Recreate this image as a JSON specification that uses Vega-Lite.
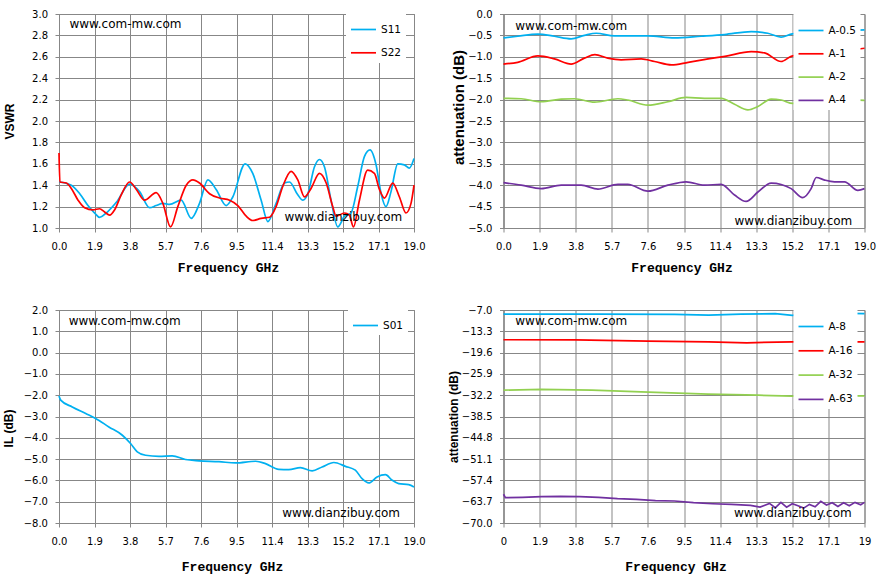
{
  "$schema": "https://vega.github.io/schema/vega-lite/v6.json",
  "background": "white",
  "padding": {"left": 2, "top": 8, "right": 5, "bottom": 5},
  "datasets": {
    "vswr": [
      {"freq": 0, "value": 1.43, "series": "S11"}, {"freq": 0.66, "value": 1.40, "series": "S11"}, {"freq": 1.11, "value": 1.32, "series": "S11"},
      {"freq": 1.55, "value": 1.21, "series": "S11"}, {"freq": 1.91, "value": 1.14, "series": "S11"}, {"freq": 2.17, "value": 1.10, "series": "S11"},
      {"freq": 2.53, "value": 1.14, "series": "S11"}, {"freq": 3.07, "value": 1.24, "series": "S11"}, {"freq": 3.78, "value": 1.41, "series": "S11"},
      {"freq": 4.31, "value": 1.34, "series": "S11"}, {"freq": 4.85, "value": 1.19, "series": "S11"}, {"freq": 5.20, "value": 1.21, "series": "S11"},
      {"freq": 5.56, "value": 1.23, "series": "S11"}, {"freq": 5.92, "value": 1.22, "series": "S11"}, {"freq": 6.54, "value": 1.26, "series": "S11"},
      {"freq": 7.08, "value": 1.09, "series": "S11"}, {"freq": 7.52, "value": 1.23, "series": "S11"}, {"freq": 7.97, "value": 1.45, "series": "S11"},
      {"freq": 8.41, "value": 1.36, "series": "S11"}, {"freq": 8.95, "value": 1.21, "series": "S11"}, {"freq": 9.30, "value": 1.29, "series": "S11"},
      {"freq": 9.96, "value": 1.60, "series": "S11"}, {"freq": 10.37, "value": 1.51, "series": "S11"}, {"freq": 10.82, "value": 1.26, "series": "S11"},
      {"freq": 11.18, "value": 1.06, "series": "S11"}, {"freq": 11.62, "value": 1.23, "series": "S11"}, {"freq": 12.07, "value": 1.42, "series": "S11"},
      {"freq": 12.34, "value": 1.43, "series": "S11"}, {"freq": 12.78, "value": 1.31, "series": "S11"}, {"freq": 13.05, "value": 1.26, "series": "S11"},
      {"freq": 13.32, "value": 1.32, "series": "S11"}, {"freq": 13.67, "value": 1.57, "series": "S11"}, {"freq": 13.94, "value": 1.64, "series": "S11"},
      {"freq": 14.21, "value": 1.57, "series": "S11"}, {"freq": 14.56, "value": 1.26, "series": "S11"}, {"freq": 14.92, "value": 1.01, "series": "S11"},
      {"freq": 15.28, "value": 1.11, "series": "S11"}, {"freq": 15.63, "value": 1.14, "series": "S11"}, {"freq": 15.99, "value": 1.39, "series": "S11"},
      {"freq": 16.35, "value": 1.67, "series": "S11"}, {"freq": 16.65, "value": 1.73, "series": "S11"}, {"freq": 16.97, "value": 1.59, "series": "S11"},
      {"freq": 17.24, "value": 1.32, "series": "S11"}, {"freq": 17.50, "value": 1.20, "series": "S11"}, {"freq": 17.77, "value": 1.34, "series": "S11"},
      {"freq": 18.13, "value": 1.60, "series": "S11"}, {"freq": 18.48, "value": 1.59, "series": "S11"}, {"freq": 18.75, "value": 1.56, "series": "S11"},
      {"freq": 19.0, "value": 1.65, "series": "S11"},
      {"freq": 0, "value": 1.70, "series": "S22"}, {"freq": 0.05, "value": 1.43, "series": "S22"}, {"freq": 0.39, "value": 1.42, "series": "S22"},
      {"freq": 0.66, "value": 1.37, "series": "S22"}, {"freq": 1.02, "value": 1.26, "series": "S22"}, {"freq": 1.37, "value": 1.19, "series": "S22"},
      {"freq": 1.82, "value": 1.17, "series": "S22"}, {"freq": 2.17, "value": 1.18, "series": "S22"}, {"freq": 2.44, "value": 1.15, "series": "S22"},
      {"freq": 2.71, "value": 1.12, "series": "S22"}, {"freq": 2.98, "value": 1.17, "series": "S22"}, {"freq": 3.33, "value": 1.31, "series": "S22"},
      {"freq": 3.78, "value": 1.43, "series": "S22"}, {"freq": 4.14, "value": 1.36, "series": "S22"}, {"freq": 4.58, "value": 1.26, "series": "S22"},
      {"freq": 5.20, "value": 1.33, "series": "S22"}, {"freq": 5.56, "value": 1.23, "series": "S22"}, {"freq": 5.97, "value": 1.01, "series": "S22"},
      {"freq": 6.36, "value": 1.20, "series": "S22"}, {"freq": 6.81, "value": 1.40, "series": "S22"}, {"freq": 7.17, "value": 1.45, "series": "S22"},
      {"freq": 7.52, "value": 1.42, "series": "S22"}, {"freq": 8.06, "value": 1.32, "series": "S22"}, {"freq": 8.59, "value": 1.28, "series": "S22"},
      {"freq": 9.13, "value": 1.26, "series": "S22"}, {"freq": 9.57, "value": 1.21, "series": "S22"}, {"freq": 10.02, "value": 1.11, "series": "S22"},
      {"freq": 10.37, "value": 1.07, "series": "S22"}, {"freq": 10.82, "value": 1.09, "series": "S22"}, {"freq": 11.27, "value": 1.10, "series": "S22"},
      {"freq": 11.62, "value": 1.20, "series": "S22"}, {"freq": 11.98, "value": 1.39, "series": "S22"}, {"freq": 12.42, "value": 1.53, "series": "S22"},
      {"freq": 12.78, "value": 1.45, "series": "S22"}, {"freq": 13.14, "value": 1.29, "series": "S22"}, {"freq": 13.49, "value": 1.37, "series": "S22"},
      {"freq": 13.94, "value": 1.51, "series": "S22"}, {"freq": 14.30, "value": 1.42, "series": "S22"}, {"freq": 14.65, "value": 1.20, "series": "S22"},
      {"freq": 14.83, "value": 1.11, "series": "S22"}, {"freq": 15.28, "value": 1.14, "series": "S22"}, {"freq": 15.54, "value": 1.12, "series": "S22"},
      {"freq": 15.76, "value": 1.01, "series": "S22"}, {"freq": 16.08, "value": 1.26, "series": "S22"}, {"freq": 16.52, "value": 1.54, "series": "S22"},
      {"freq": 16.88, "value": 1.51, "series": "S22"}, {"freq": 17.15, "value": 1.36, "series": "S22"}, {"freq": 17.42, "value": 1.28, "series": "S22"},
      {"freq": 17.86, "value": 1.42, "series": "S22"}, {"freq": 18.22, "value": 1.29, "series": "S22"}, {"freq": 18.57, "value": 1.14, "series": "S22"},
      {"freq": 18.84, "value": 1.23, "series": "S22"}, {"freq": 19.0, "value": 1.40, "series": "S22"}
    ],
    "atten_low": [
      {"freq": 0, "value": -0.56, "series": "A-0.5"}, {"freq": 0.75, "value": -0.52, "series": "A-0.5"}, {"freq": 1.81, "value": -0.47, "series": "A-0.5"},
      {"freq": 2.68, "value": -0.52, "series": "A-0.5"}, {"freq": 3.56, "value": -0.58, "series": "A-0.5"}, {"freq": 4.26, "value": -0.50, "series": "A-0.5"},
      {"freq": 4.88, "value": -0.45, "series": "A-0.5"}, {"freq": 5.84, "value": -0.51, "series": "A-0.5"}, {"freq": 7.60, "value": -0.51, "series": "A-0.5"},
      {"freq": 9.00, "value": -0.56, "series": "A-0.5"}, {"freq": 10.40, "value": -0.52, "series": "A-0.5"}, {"freq": 11.63, "value": -0.48, "series": "A-0.5"},
      {"freq": 13.04, "value": -0.41, "series": "A-0.5"}, {"freq": 13.91, "value": -0.45, "series": "A-0.5"}, {"freq": 14.61, "value": -0.54, "series": "A-0.5"},
      {"freq": 15.14, "value": -0.47, "series": "A-0.5"}, {"freq": 16.0, "value": -0.42, "series": "A-0.5"}, {"freq": 17.0, "value": -0.45, "series": "A-0.5"},
      {"freq": 18.0, "value": -0.40, "series": "A-0.5"}, {"freq": 19.0, "value": -0.37, "series": "A-0.5"},
      {"freq": 0, "value": -1.17, "series": "A-1"}, {"freq": 0.75, "value": -1.13, "series": "A-1"}, {"freq": 1.81, "value": -0.98, "series": "A-1"},
      {"freq": 2.68, "value": -1.05, "series": "A-1"}, {"freq": 3.56, "value": -1.17, "series": "A-1"}, {"freq": 4.26, "value": -1.03, "series": "A-1"},
      {"freq": 4.81, "value": -0.95, "series": "A-1"}, {"freq": 5.49, "value": -1.03, "series": "A-1"}, {"freq": 6.19, "value": -1.07, "series": "A-1"},
      {"freq": 7.25, "value": -1.05, "series": "A-1"}, {"freq": 7.95, "value": -1.11, "series": "A-1"}, {"freq": 8.84, "value": -1.19, "series": "A-1"},
      {"freq": 9.72, "value": -1.13, "series": "A-1"}, {"freq": 10.77, "value": -1.05, "series": "A-1"}, {"freq": 11.65, "value": -0.99, "series": "A-1"},
      {"freq": 13.04, "value": -0.88, "series": "A-1"}, {"freq": 13.74, "value": -0.91, "series": "A-1"}, {"freq": 14.61, "value": -1.11, "series": "A-1"},
      {"freq": 15.14, "value": -0.99, "series": "A-1"}, {"freq": 16.5, "value": -0.90, "series": "A-1"}, {"freq": 18.0, "value": -0.85, "series": "A-1"},
      {"freq": 19.0, "value": -0.80, "series": "A-1"},
      {"freq": 0, "value": -1.97, "series": "A-2"}, {"freq": 0.93, "value": -1.98, "series": "A-2"}, {"freq": 1.98, "value": -2.05, "series": "A-2"},
      {"freq": 3.04, "value": -1.99, "series": "A-2"}, {"freq": 3.74, "value": -1.98, "series": "A-2"}, {"freq": 4.79, "value": -2.06, "series": "A-2"},
      {"freq": 6.02, "value": -1.98, "series": "A-2"}, {"freq": 6.54, "value": -2.01, "series": "A-2"}, {"freq": 7.60, "value": -2.13, "series": "A-2"},
      {"freq": 8.65, "value": -2.05, "series": "A-2"}, {"freq": 9.61, "value": -1.95, "series": "A-2"}, {"freq": 10.58, "value": -1.97, "series": "A-2"},
      {"freq": 11.46, "value": -1.97, "series": "A-2"}, {"freq": 12.16, "value": -2.11, "series": "A-2"}, {"freq": 12.86, "value": -2.24, "series": "A-2"},
      {"freq": 13.39, "value": -2.16, "series": "A-2"}, {"freq": 14.09, "value": -1.99, "series": "A-2"}, {"freq": 14.61, "value": -2.01, "series": "A-2"},
      {"freq": 15.23, "value": -2.09, "series": "A-2"}, {"freq": 16.5, "value": -2.05, "series": "A-2"}, {"freq": 18.0, "value": -2.00, "series": "A-2"},
      {"freq": 19.0, "value": -2.02, "series": "A-2"},
      {"freq": 0, "value": -3.94, "series": "A-4"}, {"freq": 0.93, "value": -4.00, "series": "A-4"}, {"freq": 1.98, "value": -4.08, "series": "A-4"},
      {"freq": 3.04, "value": -4.00, "series": "A-4"}, {"freq": 4.09, "value": -4.00, "series": "A-4"}, {"freq": 4.97, "value": -4.09, "series": "A-4"},
      {"freq": 6.02, "value": -3.98, "series": "A-4"}, {"freq": 6.54, "value": -3.98, "series": "A-4"}, {"freq": 7.60, "value": -4.14, "series": "A-4"},
      {"freq": 8.65, "value": -4.00, "series": "A-4"}, {"freq": 9.61, "value": -3.92, "series": "A-4"}, {"freq": 10.58, "value": -4.00, "series": "A-4"},
      {"freq": 11.46, "value": -3.98, "series": "A-4"}, {"freq": 12.16, "value": -4.23, "series": "A-4"}, {"freq": 12.77, "value": -4.38, "series": "A-4"},
      {"freq": 13.39, "value": -4.16, "series": "A-4"}, {"freq": 14.09, "value": -3.95, "series": "A-4"}, {"freq": 15.14, "value": -4.08, "series": "A-4"},
      {"freq": 15.75, "value": -4.29, "series": "A-4"}, {"freq": 16.19, "value": -4.08, "series": "A-4"}, {"freq": 16.46, "value": -3.82, "series": "A-4"},
      {"freq": 16.90, "value": -3.88, "series": "A-4"}, {"freq": 17.42, "value": -3.92, "series": "A-4"}, {"freq": 17.95, "value": -3.92, "series": "A-4"},
      {"freq": 18.65, "value": -4.12, "series": "A-4"}, {"freq": 19.0, "value": -4.08, "series": "A-4"}
    ],
    "il": [
      {"freq": 0, "value": -2.04, "series": "S01"}, {"freq": 0.09, "value": -2.23, "series": "S01"}, {"freq": 0.71, "value": -2.55, "series": "S01"},
      {"freq": 1.43, "value": -2.86, "series": "S01"}, {"freq": 1.96, "value": -3.09, "series": "S01"}, {"freq": 2.67, "value": -3.49, "series": "S01"},
      {"freq": 3.39, "value": -3.88, "series": "S01"}, {"freq": 3.83, "value": -4.27, "series": "S01"}, {"freq": 4.19, "value": -4.66, "series": "S01"},
      {"freq": 4.63, "value": -4.82, "series": "S01"}, {"freq": 5.35, "value": -4.87, "series": "S01"}, {"freq": 6.06, "value": -4.85, "series": "S01"},
      {"freq": 6.77, "value": -5.02, "series": "S01"}, {"freq": 7.49, "value": -5.08, "series": "S01"}, {"freq": 8.56, "value": -5.12, "series": "S01"},
      {"freq": 9.45, "value": -5.18, "series": "S01"}, {"freq": 10.52, "value": -5.10, "series": "S01"}, {"freq": 11.05, "value": -5.21, "series": "S01"},
      {"freq": 11.76, "value": -5.48, "series": "S01"}, {"freq": 12.30, "value": -5.49, "series": "S01"}, {"freq": 12.92, "value": -5.40, "series": "S01"},
      {"freq": 13.55, "value": -5.55, "series": "S01"}, {"freq": 14.08, "value": -5.37, "series": "S01"}, {"freq": 14.71, "value": -5.16, "series": "S01"},
      {"freq": 15.33, "value": -5.34, "series": "S01"}, {"freq": 15.86, "value": -5.52, "series": "S01"}, {"freq": 16.22, "value": -5.92, "series": "S01"},
      {"freq": 16.58, "value": -6.12, "series": "S01"}, {"freq": 17.02, "value": -5.84, "series": "S01"}, {"freq": 17.47, "value": -5.73, "series": "S01"},
      {"freq": 17.83, "value": -5.99, "series": "S01"}, {"freq": 18.18, "value": -6.15, "series": "S01"}, {"freq": 18.72, "value": -6.20, "series": "S01"},
      {"freq": 19.0, "value": -6.31, "series": "S01"}
    ],
    "atten_high": [
      {"freq": 0, "value": -8.2, "series": "A-8"}, {"freq": 5.0, "value": -8.2, "series": "A-8"}, {"freq": 9.0, "value": -8.3, "series": "A-8"},
      {"freq": 10.8, "value": -8.5, "series": "A-8"}, {"freq": 12.5, "value": -8.2, "series": "A-8"}, {"freq": 14.3, "value": -8.1, "series": "A-8"},
      {"freq": 15.2, "value": -8.6, "series": "A-8"}, {"freq": 16.2, "value": -8.0, "series": "A-8"}, {"freq": 16.6, "value": -7.7, "series": "A-8"},
      {"freq": 17.1, "value": -7.9, "series": "A-8"}, {"freq": 19.0, "value": -8.1, "series": "A-8"},
      {"freq": 0, "value": -15.8, "series": "A-16"}, {"freq": 3.8, "value": -15.85, "series": "A-16"}, {"freq": 7.6, "value": -16.2, "series": "A-16"},
      {"freq": 10.8, "value": -16.4, "series": "A-16"}, {"freq": 12.8, "value": -16.7, "series": "A-16"}, {"freq": 15.2, "value": -16.4, "series": "A-16"},
      {"freq": 19.0, "value": -16.4, "series": "A-16"},
      {"freq": 0, "value": -30.7, "series": "A-32"}, {"freq": 2.0, "value": -30.5, "series": "A-32"}, {"freq": 4.65, "value": -30.7, "series": "A-32"},
      {"freq": 7.25, "value": -31.2, "series": "A-32"}, {"freq": 10.77, "value": -31.9, "series": "A-32"}, {"freq": 13.4, "value": -32.2, "series": "A-32"},
      {"freq": 15.2, "value": -32.5, "series": "A-32"}, {"freq": 19.0, "value": -32.4, "series": "A-32"},
      {"freq": 0, "value": -61.5, "series": "A-63"}, {"freq": 0.1, "value": -62.5, "series": "A-63"}, {"freq": 1.0, "value": -62.4, "series": "A-63"},
      {"freq": 2.0, "value": -62.2, "series": "A-63"}, {"freq": 3.0, "value": -62.1, "series": "A-63"}, {"freq": 4.0, "value": -62.2, "series": "A-63"},
      {"freq": 5.0, "value": -62.4, "series": "A-63"}, {"freq": 6.0, "value": -62.8, "series": "A-63"}, {"freq": 7.0, "value": -63.0, "series": "A-63"},
      {"freq": 8.0, "value": -63.4, "series": "A-63"}, {"freq": 9.0, "value": -63.5, "series": "A-63"}, {"freq": 10.0, "value": -64.0, "series": "A-63"},
      {"freq": 11.0, "value": -64.3, "series": "A-63"}, {"freq": 12.0, "value": -64.5, "series": "A-63"}, {"freq": 13.0, "value": -64.8, "series": "A-63"},
      {"freq": 13.5, "value": -65.3, "series": "A-63"}, {"freq": 14.0, "value": -64.2, "series": "A-63"}, {"freq": 14.3, "value": -65.5, "series": "A-63"},
      {"freq": 14.6, "value": -63.9, "series": "A-63"}, {"freq": 14.9, "value": -65.3, "series": "A-63"}, {"freq": 15.2, "value": -64.3, "series": "A-63"},
      {"freq": 15.5, "value": -64.9, "series": "A-63"}, {"freq": 15.8, "value": -65.6, "series": "A-63"}, {"freq": 16.1, "value": -64.5, "series": "A-63"},
      {"freq": 16.4, "value": -65.2, "series": "A-63"}, {"freq": 16.7, "value": -63.6, "series": "A-63"}, {"freq": 17.0, "value": -64.7, "series": "A-63"},
      {"freq": 17.3, "value": -64.0, "series": "A-63"}, {"freq": 17.6, "value": -65.1, "series": "A-63"}, {"freq": 17.9, "value": -64.0, "series": "A-63"},
      {"freq": 18.2, "value": -64.9, "series": "A-63"}, {"freq": 18.5, "value": -63.9, "series": "A-63"}, {"freq": 18.8, "value": -64.6, "series": "A-63"},
      {"freq": 19.0, "value": -63.9, "series": "A-63"}
    ]
  },
  "columns": 2,
  "align": "each",
  "bounds": "flush",
  "spacing": {"row": 82, "column": 89.5},
  "concat": [
    {
      "width": 355,
      "height": 214,
      "layer": [
        {
          "data": {"name": "vswr"},
          "mark": {"type": "line", "interpolate": "monotone", "strokeWidth": 1.7},
          "encoding": {
            "x": {"field": "freq", "type": "quantitative", "scale": {"domain": [0, 19], "nice": false, "zero": false},
                  "axis": {"values": [0, 1.9, 3.8, 5.7, 7.6, 9.5, 11.4, 13.3, 15.2, 17.1, 19], "format": ".1f", "title": "Frequency GHz", "titleX": 169, "titlePadding": 10}},
            "y": {"field": "value", "type": "quantitative", "scale": {"domain": [1, 3], "nice": false, "zero": false},
                  "axis": {"values": [1, 1.2, 1.4, 1.6, 1.8, 2, 2.2, 2.4, 2.6, 2.8, 3], "format": ".1f", "title": "VSWR", "titlePadding": 11}},
            "color": {"field": "series", "type": "nominal", "title": null,
                      "scale": {"domain": ["S11", "S22"], "range": ["#00B0F0", "#FF0000"]},
                      "legend": {"legendX": 287, "legendY": -2}}
          }
        },
        {
          "data": {"values": [{}]},
          "mark": {"type": "text", "text": "www.com-mw.com", "align": "left", "baseline": "middle", "fontSize": 12},
          "encoding": {"x": {"datum": 0.56}, "y": {"datum": 2.907}}
        },
        {
          "data": {"values": [{}]},
          "mark": {"type": "text", "text": "www.dianzibuy.com", "align": "left", "baseline": "middle", "fontSize": 12},
          "encoding": {"x": {"datum": 12.07}, "y": {"datum": 1.103}}
        }
      ]
    },
    {
      "width": 361,
      "height": 214,
      "layer": [
        {
          "data": {"name": "atten_low"},
          "mark": {"type": "line", "interpolate": "monotone", "strokeWidth": 1.7},
          "encoding": {
            "x": {"field": "freq", "type": "quantitative", "scale": {"domain": [0, 19], "nice": false, "zero": false},
                  "axis": {"values": [0, 1.9, 3.8, 5.7, 7.6, 9.5, 11.4, 13.3, 15.2, 17.1, 19], "format": ".1f", "title": "Frequency GHz", "titleX": 178, "titlePadding": 10}},
            "y": {"field": "value", "type": "quantitative", "scale": {"domain": [-5, 0], "nice": false, "zero": false},
                  "axis": {"values": [-5, -4.5, -4, -3.5, -3, -2.5, -2, -1.5, -1, -0.5, 0], "format": ".1f", "title": "attenuation (dB)", "titleFontSize": 15, "titlePadding": 5, "titleY": 93}},
            "color": {"field": "series", "type": "nominal", "title": null,
                      "scale": {"domain": ["A-0.5", "A-1", "A-2", "A-4"], "range": ["#00B0F0", "#FF0000", "#92D050", "#7030A0"]},
                      "legend": {"legendX": 290, "legendY": -1}}
          }
        },
        {
          "data": {"values": [{}]},
          "mark": {"type": "text", "text": "www.com-mw.com", "align": "left", "baseline": "middle", "fontSize": 12},
          "encoding": {"x": {"datum": 0.62}, "y": {"datum": -0.275}}
        },
        {
          "data": {"values": [{}]},
          "mark": {"type": "text", "text": "www.dianzibuy.com", "align": "left", "baseline": "middle", "fontSize": 12},
          "encoding": {"x": {"datum": 12.16}, "y": {"datum": -4.83}}
        }
      ]
    },
    {
      "width": 355,
      "height": 213,
      "layer": [
        {
          "data": {"name": "il"},
          "mark": {"type": "line", "interpolate": "monotone", "strokeWidth": 1.7},
          "encoding": {
            "x": {"field": "freq", "type": "quantitative", "scale": {"domain": [0, 19], "nice": false, "zero": false},
                  "axis": {"values": [0, 1.9, 3.8, 5.7, 7.6, 9.5, 11.4, 13.3, 15.2, 17.1, 19], "format": ".1f", "title": "Frequency GHz", "titleX": 173, "titlePadding": 14}},
            "y": {"field": "value", "type": "quantitative", "scale": {"domain": [-8, 2], "nice": false, "zero": false},
                  "axis": {"values": [-8, -7, -6, -5, -4, -3, -2, -1, 0, 1, 2], "format": ".1f", "title": "IL (dB)", "titlePadding": 11.5, "titleY": 118}},
            "color": {"field": "series", "type": "nominal", "title": null,
                      "scale": {"domain": ["S01"], "range": ["#00B0F0"]},
                      "legend": {"legendX": 289, "legendY": -2}}
          }
        },
        {
          "data": {"values": [{}]},
          "mark": {"type": "text", "text": "www.com-mw.com", "align": "left", "baseline": "middle", "fontSize": 12},
          "encoding": {"x": {"datum": 0.52}, "y": {"datum": 1.48}}
        },
        {
          "data": {"values": [{}]},
          "mark": {"type": "text", "text": "www.dianzibuy.com", "align": "left", "baseline": "middle", "fontSize": 12},
          "encoding": {"x": {"datum": 11.95}, "y": {"datum": -7.52}}
        }
      ]
    },
    {
      "width": 361,
      "height": 213,
      "layer": [
        {
          "data": {"name": "atten_high"},
          "mark": {"type": "line", "interpolate": "linear", "strokeWidth": 1.7},
          "encoding": {
            "x": {"field": "freq", "type": "quantitative", "scale": {"domain": [0, 19], "nice": false, "zero": false},
                  "axis": {"values": [0, 1.9, 3.8, 5.7, 7.6, 9.5, 11.4, 13.3, 15.2, 17.1, 19], "format": ".3~g", "title": "Frequency GHz", "titleX": 172, "titlePadding": 14}},
            "y": {"field": "value", "type": "quantitative", "scale": {"domain": [-70, -7], "nice": false, "zero": false},
                  "axis": {"values": [-70, -63.7, -57.4, -51.1, -44.8, -38.5, -32.2, -25.9, -19.6, -13.3, -7], "format": ".1f", "title": "attenuation (dB)", "titlePadding": 11}},
            "color": {"field": "series", "type": "nominal", "title": null,
                      "scale": {"domain": ["A-8", "A-16", "A-32", "A-63"], "range": ["#00B0F0", "#FF0000", "#92D050", "#7030A0"]},
                      "legend": {"legendX": 290, "legendY": -1, "rowPadding": 5.3}}
          }
        },
        {
          "data": {"values": [{}]},
          "mark": {"type": "text", "text": "www.com-mw.com", "align": "left", "baseline": "middle", "fontSize": 12},
          "encoding": {"x": {"datum": 0.62}, "y": {"datum": -10.25}}
        },
        {
          "data": {"values": [{}]},
          "mark": {"type": "text", "text": "www.dianzibuy.com", "align": "left", "baseline": "middle", "fontSize": 12},
          "encoding": {"x": {"datum": 12.13}, "y": {"datum": -66.95}}
        }
      ]
    }
  ],
  "resolve": {
    "scale": {"x": "independent", "y": "independent", "color": "independent"},
    "legend": {"color": "independent"}
  },
  "config": {
    "font": "DejaVu Sans",
    "view": {"stroke": "#878787", "strokeWidth": 1},
    "text": {"font": "DejaVu Sans", "color": "#000000"},
    "axis": {
      "grid": true,
      "tickCount": 12,
      "gridColor": "#878787",
      "gridOpacity": 1,
      "domainColor": "#878787",
      "tickColor": "#878787",
      "tickSize": 4,
      "labelFont": "DejaVu Sans",
      "labelFontSize": 10,
      "labelColor": "#000000",
      "titleColor": "#000000"
    },
    "axisX": {
      "labelPadding": 9,
      "labelFlush": false,
      "labelOverlap": false,
      "titleFont": "Liberation Mono",
      "titleFontSize": 13,
      "titleFontWeight": "bold",
      "titlePadding": 9
    },
    "axisY": {
      "labelPadding": 7.5,
      "labelOverlap": false,
      "titleFont": "Liberation Sans",
      "titleFontSize": 12,
      "titleFontWeight": "bold",
      "minExtent": 32,
      "maxExtent": 32
    },
    "legend": {
      "orient": "none",
      "fillColor": "white",
      "padding": 4,
      "symbolType": "stroke",
      "symbolSize": 625,
      "symbolStrokeWidth": 1.7,
      "labelFont": "DejaVu Sans",
      "labelFontSize": 10.5,
      "labelColor": "#000000",
      "labelOffset": 4,
      "rowPadding": 4.3
    }
  }
}
